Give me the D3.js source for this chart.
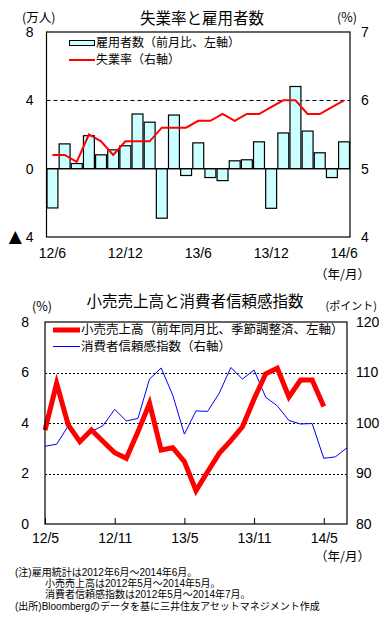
<!DOCTYPE html>
<html>
<head>
<meta charset="utf-8">
<script src="https://cdn.jsdelivr.net/npm/d3@7"></script>
<style>
  body { margin: 0; background: #fff; }
  svg text { font-family: "Noto Sans CJK JP", sans-serif; fill: #000; }
  .num text, text.num { font-family: "Liberation Sans", Arial, sans-serif; font-size: 14px; }
  text.note { font-family: "Liberation Sans", "Noto Sans CJK JP", sans-serif; font-size: 10px; }
  text.legend { font-family: "Liberation Sans", "Noto Sans CJK JP", sans-serif; }
</style>
</head>
<body>
<script>
// 雇用者数と失業率 (2012/6〜2014/6)
const empMonths = ["12/6","12/7","12/8","12/9","12/10","12/11","12/12",
  "13/1","13/2","13/3","13/4","13/5","13/6","13/7","13/8","13/9","13/10","13/11","13/12",
  "14/1","14/2","14/3","14/4","14/5","14/6"];
const employment = [-2.3, 1.45, 0.3, 1.93, 0.81, 1.1, 1.34, 3.2, 2.72, -2.9, 3.14, -0.4, 1.51,
  -0.52, -0.7, 0.46, 0.52, 1.57, -2.32, 2.09, 4.81, 2.2, 0.93, -0.52, 1.57];
const unemployment = [5.2, 5.2, 5.1, 5.5, 5.4, 5.2, 5.4, 5.4, 5.4, 5.6, 5.6, 5.6, 5.7,
  5.7, 5.8, 5.7, 5.8, 5.8, 5.9, 6.0, 6.0, 5.8, 5.8, 5.9, 6.0];
const empTicks = ["12/6","12/12","13/6","13/12","14/6"];

// 小売売上高 (2012/5〜2014/5) と消費者信頼感指数 (2012/5〜2014/7)
const retailMonths = ["12/5","12/6","12/7","12/8","12/9","12/10","12/11","12/12",
  "13/1","13/2","13/3","13/4","13/5","13/6","13/7","13/8","13/9","13/10","13/11","13/12",
  "14/1","14/2","14/3","14/4","14/5","14/6","14/7"];
const retailSales = [3.72, 5.57, 3.92, 3.26, 3.72, 3.27, 2.82, 2.6, 3.65, 4.78, 2.93, 3.02, 2.47,
  1.32, 2.07, 2.8, 3.3, 3.85, 4.95, 5.95, 6.17, 5.03, 5.7, 5.7, 4.65];
const confidence = [95.4, 95.8, 99.4, 96.8, 98.3, 99.5, 102.7, 100.4, 100.9, 108.7, 110.9, 105.5,
  97.8, 102.4, 102.3, 105.9, 111.0, 108.7, 110.5, 105.1, 103.4, 100.5, 99.8, 99.9, 93.0, 93.3, 95.1];
const retailTicks = ["12/5","12/11","13/5","13/11","14/5"];

const notes = [
  "(注)雇用統計は2012年6月～2014年6月。",
  "小売売上高は2012年5月～2014年5月。",
  "消費者信頼感指数は2012年5月～2014年7月。",
  "(出所)Bloombergのデータを基に三井住友アセットマネジメント作成"
];

const svg = d3.select("body").append("svg")
  .attr("width", 389).attr("height", 629);

// ---------- 上段: 失業率と雇用者数 ----------
const t = { left: 46.5, right: 350, top: 32, bottom: 237 };

const xBand = d3.scaleBand().domain(empMonths)
  .range([t.left, t.right]).paddingInner(0.1).paddingOuter(0.04);
const yEmp = d3.scaleLinear().domain([-4, 8]).range([t.bottom, t.top]);
const yUnemp = d3.scaleLinear().domain([4, 7]).range([t.bottom, t.top]);

svg.append("text").attr("x", 202).attr("y", 17)
  .attr("text-anchor", "middle").attr("dominant-baseline", "central")
  .style("font-size", "15.5px").text("失業率と雇用者数");
svg.append("text").attr("x", 22).attr("y", 16).attr("dominant-baseline", "central")
  .style("font-size", "12.5px").text("(万人)");
svg.append("text").attr("x", 357).attr("y", 16).attr("text-anchor", "end")
  .attr("dominant-baseline", "central").style("font-size", "12.5px").text("(%)");

// グリッド (4万人 = 6%)
svg.append("line")
  .attr("x1", t.left).attr("x2", t.right)
  .attr("y1", Math.round(yEmp(4)) + 0.5).attr("y2", Math.round(yEmp(4)) + 0.5)
  .attr("stroke", "#000").attr("stroke-dasharray", "4,3");

svg.append("g").selectAll("rect")
  .data(employment)
  .enter().append("rect")
    .attr("x", (d, i) => xBand(empMonths[i]))
    .attr("y", d => yEmp(Math.max(0, d)))
    .attr("width", xBand.bandwidth())
    .attr("height", d => Math.abs(yEmp(d) - yEmp(0)))
    .attr("fill", "#ccffff")
    .attr("stroke", "#000").attr("stroke-width", 1.2);

svg.append("line")
  .attr("x1", t.left).attr("x2", t.right)
  .attr("y1", yEmp(0)).attr("y2", yEmp(0))
  .attr("stroke", "#000").attr("stroke-width", 1.2);

const unempLine = d3.line()
  .x((d, i) => xBand(empMonths[i]) + xBand.bandwidth() / 2)
  .y(d => yUnemp(d));
svg.append("path").datum(unemployment)
  .attr("d", unempLine)
  .attr("fill", "none").attr("stroke", "#ff0000").attr("stroke-width", 2);

svg.append("rect")
  .attr("x", t.left).attr("y", t.top)
  .attr("width", t.right - t.left).attr("height", t.bottom - t.top)
  .attr("fill", "none").attr("stroke", "#000").attr("stroke-width", 1.2);

svg.append("g").attr("class", "num")
  .attr("transform", "translate(" + t.left + ",0)")
  .call(d3.axisLeft(yEmp).tickValues([-4, 0, 4, 8]).tickSize(0).tickPadding(13)
    .tickFormat(d => Math.abs(d)))
  .call(g => g.select(".domain").remove())
  .call(g => g.selectAll(".tick text").filter(d => d < 0)
    .text(null)
    .call(tx => {
      tx.append("tspan").style("font-family", "DejaVu Sans").style("font-size", "17px").text("▲");
      tx.append("tspan").text(" 4");
    }));

svg.append("g").attr("class", "num")
  .attr("transform", "translate(" + t.right + ",0)")
  .call(d3.axisRight(yUnemp).tickValues([4, 5, 6, 7]).tickSize(0).tickPadding(11)
    .tickFormat(d3.format("d")))
  .call(g => g.select(".domain").remove());

svg.append("g").attr("class", "num")
  .attr("transform", "translate(0," + t.bottom + ")")
  .call(d3.axisBottom(xBand).tickValues(empTicks).tickSize(0).tickPadding(11))
  .call(g => g.select(".domain").remove());

svg.append("text").attr("x", 370).attr("y", 273).attr("text-anchor", "end")
  .attr("dominant-baseline", "central").style("font-size", "12.5px").text("（年/月）");

// 凡例 (上段)
svg.append("rect").attr("x", 69.5).attr("y", 40.5).attr("width", 25).attr("height", 5)
  .attr("fill", "#ccffff").attr("stroke", "#000");
svg.append("text").attr("class", "legend").attr("x", 96).attr("y", 43)
  .attr("dominant-baseline", "central")
  .style("font-size", "12px").text("雇用者数（前月比、左軸）");
svg.append("line").attr("x1", 69).attr("x2", 95).attr("y1", 60).attr("y2", 60)
  .attr("stroke", "#ff0000").attr("stroke-width", 2);
svg.append("text").attr("class", "legend").attr("x", 96).attr("y", 60)
  .attr("dominant-baseline", "central")
  .style("font-size", "12px").text("失業率（右軸）");

// ---------- 下段: 小売売上高と消費者信頼感指数 ----------
const b = { left: 45, right: 347, top: 322, bottom: 524 };

const xPt = d3.scalePoint().domain(retailMonths).range([b.left, b.right]);
const yRetail = d3.scaleLinear().domain([0, 8]).range([b.bottom, b.top]);
const yConf = d3.scaleLinear().domain([80, 120]).range([b.bottom, b.top]);

svg.append("text").attr("x", 195).attr("y", 300)
  .attr("text-anchor", "middle").attr("dominant-baseline", "central")
  .style("font-size", "15.5px").text("小売売上高と消費者信頼感指数");
svg.append("text").attr("x", 32).attr("y", 305).attr("dominant-baseline", "central")
  .style("font-size", "12.5px").text("(%)");
svg.append("text").attr("x", 377).attr("y", 305).attr("text-anchor", "end")
  .attr("dominant-baseline", "central").style("font-size", "11px").text("(ポイント)");

svg.append("g").selectAll("line")
  .data([2, 4, 6])
  .enter().append("line")
    .attr("x1", b.left).attr("x2", b.right)
    .attr("y1", d => Math.round(yRetail(d)) + 0.5).attr("y2", d => Math.round(yRetail(d)) + 0.5)
    .attr("stroke", "#000").attr("stroke-dasharray", "2,2");

svg.append("path").datum(confidence)
  .attr("d", d3.line().x((d, i) => xPt(retailMonths[i])).y(d => yConf(d)))
  .attr("fill", "none").attr("stroke", "#0000ff").attr("stroke-width", 1);

svg.append("path").datum(retailSales)
  .attr("d", d3.line().x((d, i) => xPt(retailMonths[i])).y(d => yRetail(d)))
  .attr("fill", "none").attr("stroke", "#ff0000").attr("stroke-width", 5)
  .attr("stroke-linejoin", "miter");

svg.append("rect")
  .attr("x", b.left).attr("y", b.top)
  .attr("width", b.right - b.left).attr("height", b.bottom - b.top)
  .attr("fill", "none").attr("stroke", "#000").attr("stroke-width", 1.2);

svg.append("g").attr("class", "num")
  .attr("transform", "translate(" + b.left + ",0)")
  .call(d3.axisLeft(yRetail).tickValues([0, 2, 4, 6, 8]).tickSize(0).tickPadding(16))
  .call(g => g.select(".domain").remove());

svg.append("g").attr("class", "num")
  .attr("transform", "translate(" + b.right + ",0)")
  .call(d3.axisRight(yConf).tickValues([80, 90, 100, 110, 120]).tickSize(0).tickPadding(9))
  .call(g => g.select(".domain").remove());

svg.append("g").attr("class", "num")
  .attr("transform", "translate(0," + b.bottom + ")")
  .call(d3.axisBottom(xPt).tickValues(retailTicks).tickSizeInner(-6).tickSizeOuter(0).tickPadding(9))
  .call(g => g.select(".domain").remove())
  .call(g => g.selectAll(".tick text").attr("y", 9));

svg.append("text").attr("x", 370).attr("y", 555).attr("text-anchor", "end")
  .attr("dominant-baseline", "central").style("font-size", "12.5px").text("（年/月）");

// 凡例 (下段)
svg.append("line").attr("x1", 53).attr("x2", 80).attr("y1", 330).attr("y2", 330)
  .attr("stroke", "#ff0000").attr("stroke-width", 5);
svg.append("text").attr("class", "legend").attr("x", 81).attr("y", 330)
  .attr("dominant-baseline", "central")
  .style("font-size", "12.5px").text("小売売上高（前年同月比、季節調整済、左軸）");
svg.append("line").attr("x1", 53).attr("x2", 80).attr("y1", 346.5).attr("y2", 346.5)
  .attr("stroke", "#0000ff").attr("stroke-width", 1);
svg.append("text").attr("class", "legend").attr("x", 81).attr("y", 346.5)
  .attr("dominant-baseline", "central")
  .style("font-size", "12.5px").text("消費者信頼感指数（右軸）");

// 注記
const noteX = [15, 45, 45, 15];
svg.append("g").selectAll("text")
  .data(notes)
  .enter().append("text")
    .attr("class", "note")
    .attr("x", (d, i) => noteX[i])
    .attr("y", (d, i) => 572 + i * 11.4)
    .attr("dominant-baseline", "central")
    .text(d => d);
</script>
</body>
</html>
